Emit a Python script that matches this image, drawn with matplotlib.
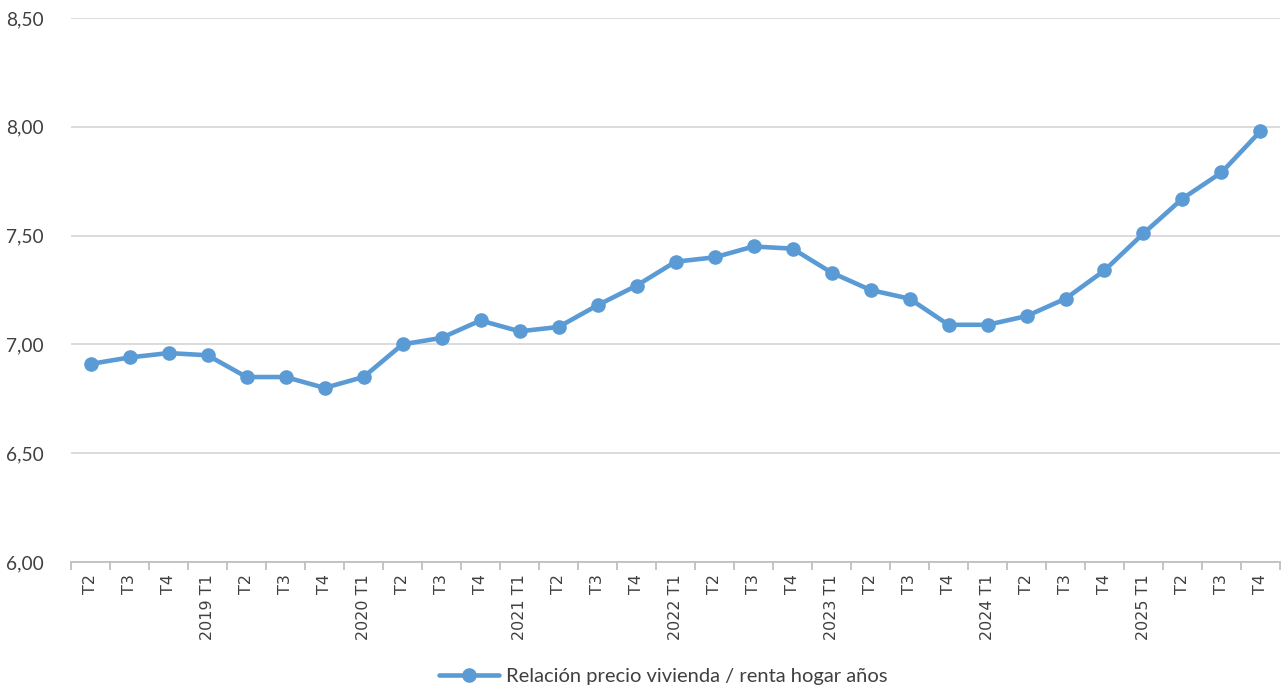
import matplotlib
matplotlib.use('Agg')
from matplotlib import pyplot as plt
import numpy as np

# datos
etiquetas = ['T2', 'T3', 'T4',
             '2019 T1', 'T2', 'T3', 'T4',
             '2020 T1', 'T2', 'T3', 'T4',
             '2021 T1', 'T2', 'T3', 'T4',
             '2022 T1', 'T2', 'T3', 'T4',
             '2023 T1', 'T2', 'T3', 'T4',
             '2024 T1', 'T2', 'T3', 'T4',
             '2025 T1', 'T2', 'T3', 'T4']
valores = [6.91, 6.94, 6.96,
           6.95, 6.85, 6.85, 6.80,
           6.85, 7.00, 7.03, 7.11,
           7.06, 7.08, 7.18, 7.27,
           7.38, 7.40, 7.45, 7.44,
           7.33, 7.25, 7.21, 7.09,
           7.09, 7.13, 7.21, 7.34,
           7.51, 7.67, 7.79, 7.98]
serie = 'Relación precio vivienda / renta hogar años'
y_ticks = [6.0, 6.5, 7.0, 7.5, 8.0, 8.5]

azul = '#5B9BD5'

fig = plt.figure(figsize=(12.85, 6.95), dpi=100)
ax = fig.add_axes([0.0553, 0.1914, 0.9408, 0.7827])

x = np.arange(len(valores))
ax.plot(x, valores, color=azul, linewidth=3.3, marker='o', markersize=9.5,
        label=serie, solid_capstyle='round')

ax.set_xlim(-0.5, len(valores) - 0.5)
ax.set_ylim(6.0, 8.5)

# rejilla
ax.set_yticks(y_ticks)
ax.set_yticklabels([f'{v:.2f}'.replace('.', ',') for v in y_ticks],
                   fontfamily='Lato', fontsize=13.8, color='#404040')
ax.yaxis.grid(True, color='#D9D9D9', linewidth=1.3)
ax.set_axisbelow(True)
ax.tick_params(axis='y', length=0, pad=20)

ax.set_xticks(x)
ax.set_xticklabels(etiquetas, rotation=90, fontfamily='DejaVu Sans',
                   fontsize=11.5, color='#404040')
ax.set_xticks(np.arange(-0.5, len(valores)), minor=True)
ax.tick_params(axis='x', which='major', length=0, pad=9)
ax.tick_params(axis='x', which='minor', length=6, color='#BFBFBF', width=1.3)

for s in ['top', 'right', 'left']:
    ax.spines[s].set_visible(False)
ax.spines['bottom'].set_color('#BFBFBF')
ax.spines['bottom'].set_linewidth(1.3)

leg = fig.legend(loc='center', bbox_to_anchor=(0.516, 0.026), frameon=False,
                 prop={'family': 'Lato', 'size': 14.5}, handlelength=3.0,
                 handletextpad=0.3)
for t in leg.get_texts():
    t.set_color('#404040')

fig.savefig('out.png', dpi=100)
plt.close()
